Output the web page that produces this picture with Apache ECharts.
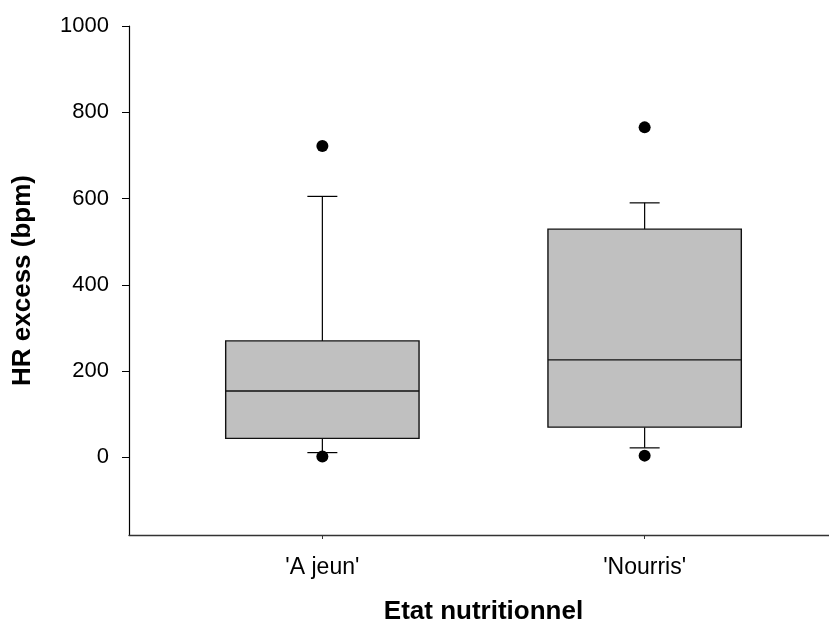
<!DOCTYPE html>
<html>
<head>
<meta charset="utf-8">
<script src="https://cdn.jsdelivr.net/npm/echarts@6/dist/echarts.min.js"></script>
<style>
  html, body { margin: 0; padding: 0; background: #fff; }
  #chart { width: 829px; height: 626px; }
</style>
</head>
<body>
<div id="chart"></div>
<script>
const categories = ["'A jeun'", "'Nourris'"];
const whiskerLow = [11, 22];
const q1 = [44, 70];
const median = [154, 226];
const q3 = [270, 529];
const whiskerHigh = [605, 590];
const outliersHigh = [722, 765];
const outliersLow = [2, 4];
const yTicks = [0, 200, 400, 600, 800, 1000];

const boxData = categories.map((c, i) => [i + 1, whiskerLow[i], q1[i], median[i], q3[i], whiskerHigh[i]]);
const outlierData = [];
categories.forEach((c, i) => {
  outlierData.push([i + 1, outliersHigh[i]]);
  outlierData.push([i + 1, outliersLow[i]]);
});

const FONT = 'Liberation Sans, Arial, sans-serif';
const chart = echarts.init(document.getElementById('chart'));

function renderBox(params, api) {
  const x = api.value(0);
  const pLow = api.coord([x, api.value(1)]);
  const pQ1 = api.coord([x, api.value(2)]);
  const pMed = api.coord([x, api.value(3)]);
  const pQ3 = api.coord([x, api.value(4)]);
  const pHigh = api.coord([x, api.value(5)]);
  const halfW = api.size([0.3, 0])[0];
  const capW = 15;
  const cx = pQ1[0];
  const lineStyle = { stroke: '#000', lineWidth: 1.2, fill: null };
  return {
    type: 'group',
    children: [
      { type: 'line', shape: { x1: cx, y1: pQ3[1], x2: cx, y2: pHigh[1] }, style: lineStyle },
      { type: 'line', shape: { x1: cx - capW, y1: pHigh[1], x2: cx + capW, y2: pHigh[1] }, style: lineStyle },
      { type: 'line', shape: { x1: cx, y1: pQ1[1], x2: cx, y2: pLow[1] }, style: lineStyle },
      { type: 'line', shape: { x1: cx - capW, y1: pLow[1], x2: cx + capW, y2: pLow[1] }, style: lineStyle },
      { type: 'rect', shape: { x: cx - halfW, y: pQ3[1], width: 2 * halfW, height: pQ1[1] - pQ3[1] },
        style: { fill: '#c0c0c0', stroke: '#111', lineWidth: 1.4 } },
      { type: 'line', shape: { x1: cx - halfW, y1: pMed[1], x2: cx + halfW, y2: pMed[1] },
        style: { stroke: '#111', lineWidth: 1.4 } }
    ]
  };
}

chart.setOption({
  animation: false,
  backgroundColor: '#fff',
  grid: { left: 129, top: 26, right: -9, bottom: 91, containLabel: false, outerBoundsMode: 'none' },
  xAxis: {
    type: 'value',
    min: 0.4,
    max: 2.6,
    splitLine: { show: false },
    axisLine: { show: true, onZero: false, lineStyle: { color: '#333', width: 1.4 } },
    axisTick: { show: true, customValues: [1, 2], length: 4, inside: false, lineStyle: { color: '#333' } },
    axisLabel: {
      customValues: [1, 2],
      formatter: v => categories[Math.round(v) - 1] || '',
      color: '#000', fontFamily: FONT, fontSize: 23, margin: 21
    },
    name: 'Etat nutritionnel',
    nameLocation: 'middle',
    nameGap: 64,
    nameTextStyle: { color: '#000', fontFamily: FONT, fontSize: 26, fontWeight: 'bold' }
  },
  yAxis: {
    type: 'value',
    min: -180,
    max: 1000,
    splitLine: { show: false },
    axisLine: { show: true, onZero: false, lineStyle: { color: '#000', width: 1.2 } },
    axisTick: { show: true, customValues: yTicks, length: 7, inside: false, lineStyle: { color: '#000' } },
    axisLabel: {
      customValues: yTicks,
      formatter: v => String(v),
      color: '#000', fontFamily: FONT, fontSize: 22, margin: 20
    },
    name: 'HR excess (bpm)',
    nameLocation: 'middle',
    nameGap: 93,
    nameRotate: 90,
    nameTextStyle: { color: '#000', fontFamily: FONT, fontSize: 26, fontWeight: 'bold' }
  },
  series: [
    {
      type: 'custom',
      renderItem: renderBox,
      data: boxData,
      encode: { x: 0, y: [1, 2, 3, 4, 5] },
      z: 2
    },
    {
      type: 'scatter',
      data: outlierData,
      symbol: 'circle',
      symbolSize: 12,
      itemStyle: { color: '#000', opacity: 1 },
      z: 3
    }
  ]
});
</script>
</body>
</html>
